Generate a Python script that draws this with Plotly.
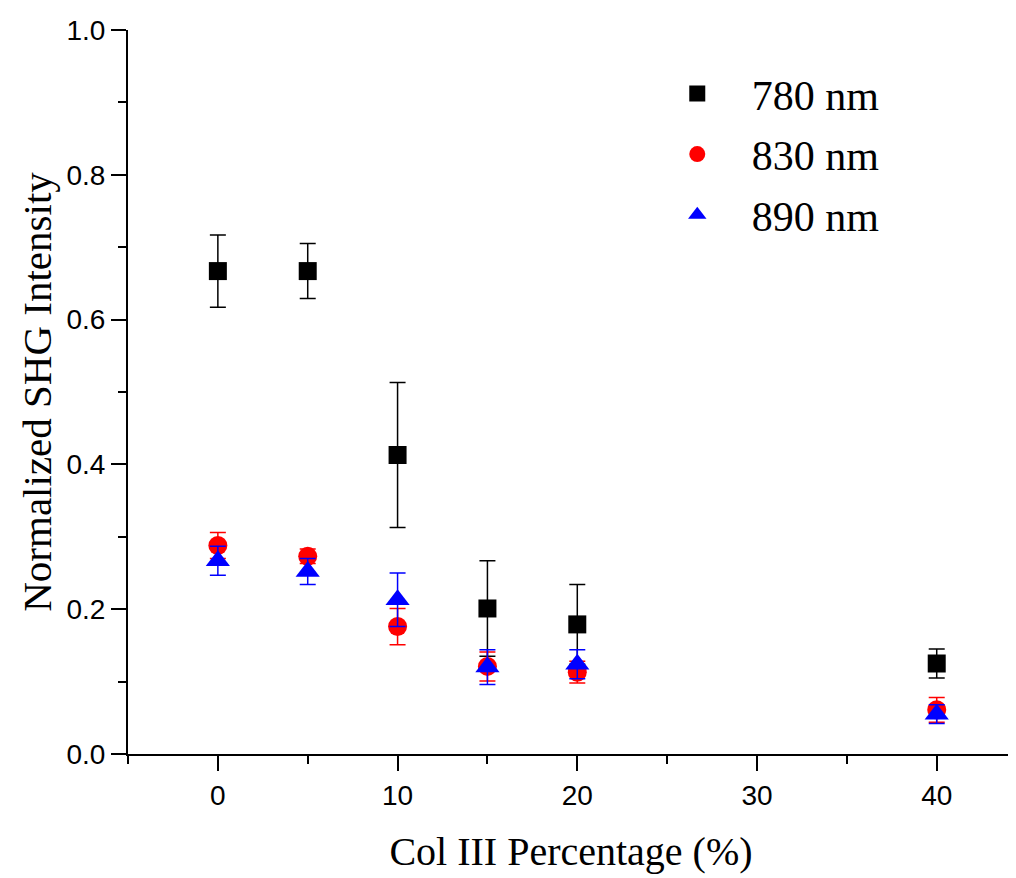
import plotly.graph_objects as go

x_vals = [0, 5, 10, 15, 20, 40]

y_780 = [0.667, 0.667, 0.413, 0.201, 0.179, 0.125]
e_780 = [0.050, 0.038, 0.100, 0.066, 0.055, 0.020]

y_830 = [0.288, 0.273, 0.176, 0.121, 0.113, 0.061]
e_830 = [0.018, 0.010, 0.025, 0.020, 0.015, 0.017]

y_890 = [0.267, 0.252, 0.213, 0.120, 0.124, 0.055]
e_890 = [0.020, 0.018, 0.037, 0.024, 0.020, 0.013]

names = ["780 nm", "830 nm", "890 nm"]
colors = ["black", "red", "blue"]
symbols = ["square", "circle", "triangle-up"]
sizes = [18, 19, 21]

fig = go.Figure()
for name, ys, es, c, s, sz in zip(names, [y_780, y_830, y_890], [e_780, e_830, e_890],
                                  colors, symbols, sizes):
    fig.add_trace(go.Scatter(
        x=x_vals, y=ys, mode="markers", name=name, legendgroup=name,
        marker=dict(symbol=s, color=c, size=sz, line=dict(width=0)),
        error_y=dict(type="data", array=es, visible=True, color=c,
                     thickness=1.5, width=8),
    ))

fig.update_layout(
    width=1008, height=870,
    margin=dict(l=120, r=2, t=22, b=124),
    plot_bgcolor="white", paper_bgcolor="white",
    showlegend=True,
    legend=dict(x=0.581, y=0.959, xanchor="left", yanchor="top",
                font=dict(family="Liberation Serif", size=42, color="black"),
                tracegroupgap=3, bgcolor="rgba(0,0,0,0)", itemwidth=99),
    xaxis=dict(range=[-5, 44.3], tickmode="linear", tick0=0, dtick=10,
               ticks="outside", ticklen=15, tickwidth=2, tickcolor="black",
               showline=True, linecolor="black", linewidth=2, showgrid=False,
               zeroline=False,
               tickfont=dict(family="Liberation Sans", size=28, color="black"),
               minor=dict(dtick=5, tick0=0, ticks="outside", ticklen=8,
                          tickwidth=2, tickcolor="black", showgrid=False),
               title=dict(text="Col III Percentage (%)", standoff=27,
                          font=dict(family="Liberation Serif", size=40, color="black"))),
    yaxis=dict(range=[0, 1.0], tickmode="linear", tick0=0, dtick=0.2,
               tickformat=".1f",
               ticks="outside", ticklen=15, tickwidth=2, tickcolor="black",
               showline=True, linecolor="black", linewidth=2, showgrid=False,
               zeroline=False,
               tickfont=dict(family="Liberation Sans", size=28, color="black"),
               minor=dict(dtick=0.1, tick0=0, ticks="outside", ticklen=8,
                          tickwidth=2, tickcolor="black", showgrid=False),
               title=dict(text="Normalized SHG Intensity", standoff=2,
                          font=dict(family="Liberation Serif", size=41, color="black"))),
)

fig.write_html("out.html")
